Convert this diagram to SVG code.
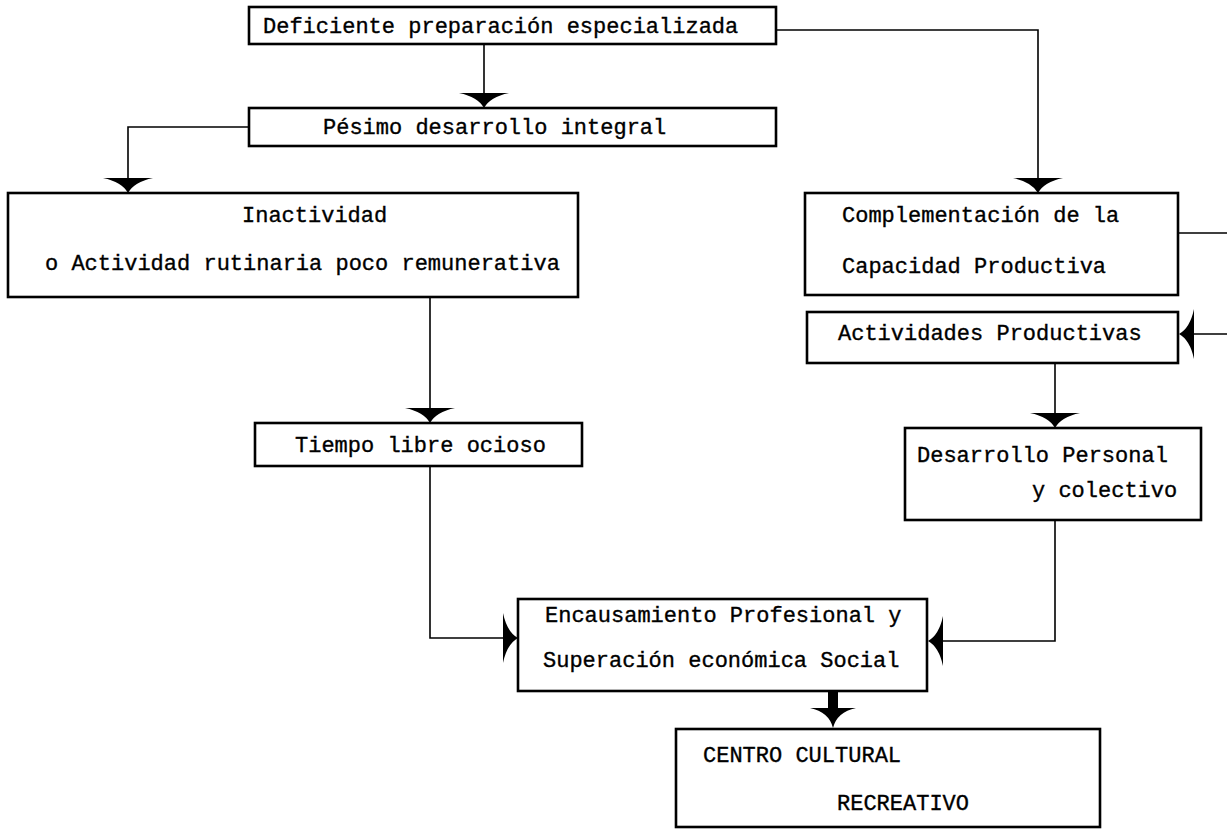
<svg xmlns="http://www.w3.org/2000/svg" xmlns:xlink="http://www.w3.org/1999/xlink" width="1227" height="829" viewBox="0 0 1227 829">
<style>
.box{fill:#fff;stroke:#000;stroke-width:2.6}
.t{font-family:"Liberation Mono","DejaVu Sans Mono",monospace;font-size:22px;fill:#000;stroke:#000;stroke-width:0.35}
.ln{fill:none;stroke:#000;stroke-width:1.6}
.ah{fill:#000}
</style>
<defs>
<path id="ah" d="M-25,-15 L25,-15 Q6,-11 0,0 Q-6,-11 -25,-15 Z"/>
</defs>
<rect width="1227" height="829" fill="#fff"/>
<g id="connectors">
<path class="ln" d="M484,44 V96"/>
<use href="#ah" class="ah" transform="translate(484,108)"/>
<path class="ln" d="M249,127 H128 V179"/>
<use href="#ah" class="ah" transform="translate(128,193)"/>
<path class="ln" d="M430,297 V410"/>
<use href="#ah" class="ah" transform="translate(430,423)"/>
<path class="ln" d="M430,466 V638 H505"/>
<use href="#ah" class="ah" transform="translate(518,638) rotate(-90)"/>
<path class="ln" d="M776,30 H1038 V179"/>
<use href="#ah" class="ah" transform="translate(1038,193)"/>
<path class="ln" d="M1178,233 H1234 V334 H1193"/>
<use href="#ah" class="ah" transform="translate(1179,334) rotate(90)"/>
<path class="ln" d="M1055,363 V414"/>
<use href="#ah" class="ah" transform="translate(1055,428)"/>
<path class="ln" d="M1055,520 V641 H942"/>
<use href="#ah" class="ah" transform="translate(928,641) rotate(90)"/>
<rect x="828" y="691" width="10" height="20" fill="#000"/>
<path class="ah" d="M810,708 L856,708 Q837,712 833,728 Q829,712 810,708 Z"/>
</g>
<g id="n1">
<rect class="box" x="249" y="7" width="527" height="37"/>
<text class="t" x="263" y="33">Deficiente preparación especializada</text>
</g>
<g id="n2">
<rect class="box" x="249" y="108" width="527" height="38"/>
<text class="t" x="323" y="134">Pésimo desarrollo integral</text>
</g>
<g id="n3">
<rect class="box" x="8" y="193" width="570" height="104"/>
<text class="t" x="242" y="222">Inactividad</text>
<text class="t" x="45" y="270">o Actividad rutinaria poco remunerativa</text>
</g>
<g id="n4">
<rect class="box" x="255" y="423" width="327" height="43"/>
<text class="t" x="295" y="452">Tiempo libre ocioso</text>
</g>
<g id="n5">
<rect class="box" x="518" y="599" width="409" height="92"/>
<text class="t" x="545" y="622">Encausamiento Profesional y</text>
<text class="t" x="543" y="667">Superación económica Social</text>
</g>
<g id="n6">
<rect class="box" x="676" y="729" width="424" height="98"/>
<text class="t" x="703" y="762">CENTRO CULTURAL</text>
<text class="t" x="837" y="810">RECREATIVO</text>
</g>
<g id="n7">
<rect class="box" x="805" y="193" width="373" height="102"/>
<text class="t" x="842" y="222">Complementación de la</text>
<text class="t" x="842" y="273">Capacidad Productiva</text>
</g>
<g id="n8">
<rect class="box" x="807" y="312" width="371" height="51"/>
<text class="t" x="838" y="340">Actividades Productivas</text>
</g>
<g id="n9">
<rect class="box" x="905" y="428" width="296" height="92"/>
<text class="t" x="917" y="462">Desarrollo Personal</text>
<text class="t" x="1032" y="497">y colectivo</text>
</g>
</svg>
